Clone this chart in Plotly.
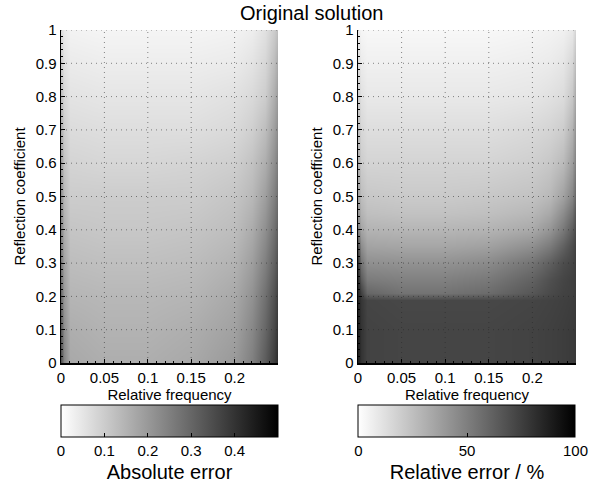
import plotly.graph_objects as go

# ---------------- data ----------------
freq_abs = [0, 0.003, 0.01, 0.05, 0.1, 0.15, 0.2, 0.22, 0.235, 0.245, 0.25]
refl_abs = [0, 0.1, 0.2, 0.3, 0.4, 0.5, 0.6, 0.7, 0.8, 0.9, 1.0]
abs_err = [
    [0.34, 0.24, 0.17, 0.16, 0.16, 0.17, 0.2, 0.25, 0.32, 0.38, 0.42],
    [0.32, 0.22, 0.16, 0.15, 0.15, 0.16, 0.185, 0.235, 0.3, 0.36, 0.4],
    [0.29, 0.2, 0.145, 0.14, 0.14, 0.145, 0.17, 0.215, 0.28, 0.34, 0.38],
    [0.26, 0.18, 0.13, 0.125, 0.125, 0.13, 0.15, 0.19, 0.25, 0.31, 0.35],
    [0.24, 0.16, 0.115, 0.11, 0.11, 0.115, 0.13, 0.165, 0.22, 0.28, 0.32],
    [0.22, 0.14, 0.1, 0.1, 0.1, 0.1, 0.115, 0.14, 0.19, 0.25, 0.29],
    [0.19, 0.12, 0.085, 0.08, 0.08, 0.085, 0.095, 0.12, 0.16, 0.22, 0.26],
    [0.16, 0.1, 0.07, 0.065, 0.065, 0.065, 0.075, 0.095, 0.13, 0.19, 0.23],
    [0.13, 0.08, 0.055, 0.05, 0.05, 0.05, 0.06, 0.075, 0.1, 0.16, 0.2],
    [0.1, 0.06, 0.04, 0.035, 0.035, 0.035, 0.04, 0.055, 0.08, 0.13, 0.17],
    [0.07, 0.04, 0.025, 0.02, 0.02, 0.02, 0.025, 0.035, 0.06, 0.1, 0.13],
]

freq_rel = [0, 0.003, 0.01, 0.05, 0.1, 0.15, 0.2, 0.22, 0.235, 0.245, 0.25]
refl_rel = [0, 0.1, 0.19, 0.21, 0.25, 0.3, 0.35, 0.4, 0.45, 0.5, 0.6, 0.7, 0.8, 0.9, 1.0]
rel_err = [
    [88, 80, 74, 73, 73, 73, 74, 75, 76, 77, 78],
    [88, 80, 74, 73, 73, 73, 74, 75, 76, 77, 78],
    [87, 79, 73, 72, 72, 72, 73, 74, 75, 76, 77],
    [86, 75, 60, 55, 55, 58, 66, 71, 74, 75, 77],
    [84, 65, 52, 50, 50, 53, 62, 69, 73, 75, 76],
    [80, 55, 44, 43, 43, 46, 55, 63, 70, 73, 76],
    [70, 45, 36, 35, 35, 37, 44, 52, 62, 70, 75],
    [50, 36, 30, 29, 29, 30, 34, 42, 53, 64, 72],
    [42, 30, 25, 24, 24, 25, 28, 34, 45, 56, 68],
    [38, 26, 22, 21, 21, 22, 24, 28, 37, 48, 62],
    [32, 20, 17, 17, 17, 17, 19, 22, 27, 38, 52],
    [26, 16, 13, 13, 13, 13, 15, 17, 20, 30, 45],
    [20, 12, 9, 9, 9, 9, 10, 12, 14, 22, 37],
    [14, 8, 6, 6, 6, 6, 7, 8, 10, 16, 28],
    [8, 4, 3, 3, 3, 3, 4, 5, 6, 9, 18],
]

x_ticks = [0, 0.05, 0.1, 0.15, 0.2]
x_ticklabels = ["0", "0.05", "0.1", "0.15", "0.2"]
y_ticks = [0, 0.1, 0.2, 0.3, 0.4, 0.5, 0.6, 0.7, 0.8, 0.9, 1.0]
y_ticklabels = ["0", "0.1", "0.2", "0.3", "0.4", "0.5", "0.6", "0.7", "0.8", "0.9", "1"]
abs_cb_ticks = [0, 0.1, 0.2, 0.3, 0.4]
rel_cb_ticks = [0, 50, 100]

# ---------------- figure ----------------
W, H = 603, 489
FONT = "Liberation Sans, Arial, Helvetica, sans-serif"
gray = [[0, "rgb(255,255,255)"], [1, "rgb(0,0,0)"]]


def px_x(p):
    return p / W


def px_y(p):
    return 1 - p / H


left_dom = [px_x(61), px_x(278)]
right_dom = [px_x(358), px_x(576)]
y_dom = [px_y(363), px_y(30)]


def cbar(title, ticks, xc):
    return dict(
        orientation="h",
        x=xc, xanchor="center",
        y=px_y(405), yanchor="top",
        len=217, lenmode="pixels",
        thickness=32, thicknessmode="pixels",
        xpad=0, ypad=0,
        outlinewidth=1, outlinecolor="black",
        ticks="inside", ticklen=4, tickcolor="black",
        tickvals=ticks,
        tickfont=dict(size=15, color="black", family=FONT),
        title=dict(text=title, side="bottom", font=dict(size=20, color="black", family=FONT)),
    )


fig = go.Figure()
fig.add_trace(go.Heatmap(
    x=freq_abs, y=refl_abs, z=abs_err, zmin=0, zmax=0.5,
    colorscale=gray, zsmooth="best", xaxis="x", yaxis="y",
    colorbar=cbar("Absolute error", abs_cb_ticks, (left_dom[0] + left_dom[1]) / 2),
))
fig.add_trace(go.Heatmap(
    x=freq_rel, y=refl_rel, z=rel_err, zmin=0, zmax=100,
    colorscale=gray, zsmooth="best", xaxis="x2", yaxis="y2",
    colorbar=cbar("Relative error / %", rel_cb_ticks, (right_dom[0] + right_dom[1]) / 2),
))

axis_common = dict(
    showline=True, linecolor="black", linewidth=1.5, mirror=False,
    ticks="inside", ticklen=4, tickwidth=1, tickcolor="black",
    showgrid=False, zeroline=False, layer="above traces",
    tickfont=dict(size=15, color="black", family=FONT),
    fixedrange=True,
)

xaxis_common = dict(axis_common, range=[0, 0.25], tickvals=x_ticks, ticktext=x_ticklabels,
                    minor=dict(ticks="inside", ticklen=2, dtick=0.01, tickcolor="black"),
                    title=dict(text="Relative frequency", font=dict(size=15, color="black", family=FONT), standoff=4))
yaxis_common = dict(axis_common, range=[0, 1], tickvals=y_ticks, ticktext=y_ticklabels,
                    minor=dict(ticks="inside", ticklen=2, dtick=0.02, tickcolor="black"),
                    title=dict(text="Reflection coefficient", font=dict(size=15, color="black", family=FONT), standoff=6))

fig.update_layout(
    width=W, height=H,
    margin=dict(l=0, r=0, t=0, b=0, autoexpand=False),
    template="none",
    paper_bgcolor="white", plot_bgcolor="white",
    font=dict(family=FONT, color="black", size=15),
    showlegend=False,
    xaxis=dict(xaxis_common, domain=left_dom, anchor="y"),
    yaxis=dict(yaxis_common, domain=y_dom, anchor="x"),
    xaxis2=dict(xaxis_common, domain=right_dom, anchor="y2"),
    yaxis2=dict(yaxis_common, domain=y_dom, anchor="x2"),
    annotations=[dict(text="Original solution", x=px_x(311), y=px_y(13), xref="paper", yref="paper",
                      xanchor="center", yanchor="middle", showarrow=False,
                      font=dict(size=20, color="black", family=FONT))],
)

# dotted grid lines drawn above the images (MATLAB style), at the tick values
grid_line = dict(color="rgba(40,40,40,0.55)", width=1, dash="1px,4px")
for xa, ya in (("x", "y"), ("x2", "y2")):
    for v in x_ticks[1:]:
        fig.add_shape(type="line", xref=xa, yref=f"{ya} domain", x0=v, x1=v, y0=0, y1=1,
                      line=grid_line, layer="above")
    for v in y_ticks[1:]:
        fig.add_shape(type="line", xref=f"{xa} domain", yref=ya, x0=0, x1=1, y0=v, y1=v,
                      line=grid_line, layer="above")

# remove the default page margin so the figure fills the window exactly
fig.write_html(
    "out.html",
    config={"displayModeBar": False, "staticPlot": True},
    post_script="document.body.style.margin='0';document.body.style.overflow='hidden';",
)
